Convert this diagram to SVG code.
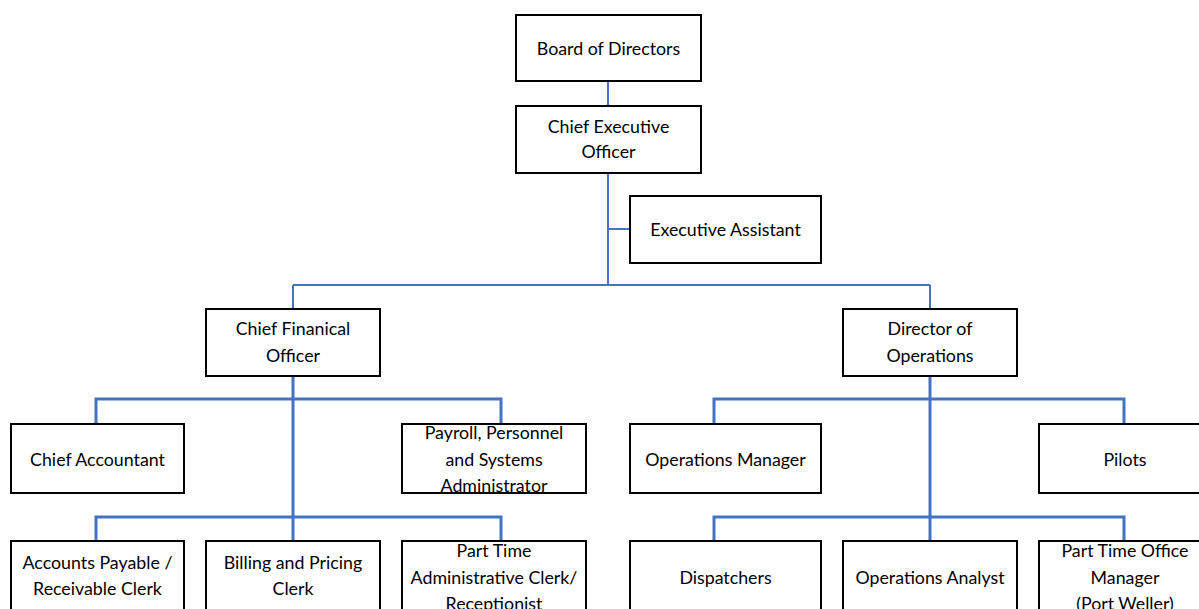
<svg xmlns="http://www.w3.org/2000/svg" width="1199" height="609" viewBox="0 0 1199 609">
<style>
.box{fill:#fff;stroke:#000;stroke-width:2}
.t{font-family:Lato,"Liberation Sans",sans-serif;font-size:17.8px;fill:#000;text-anchor:middle}
.c1{fill:none;stroke:#4472C4;stroke-width:2}
.c2{fill:none;stroke:#4472C4;stroke-width:3}
</style>
<rect width="1199" height="609" fill="#fff"/>
<g id="connectors">
<path class="c1" d="M608 81V285M608 229H630M293 285H930M293 285V309M930 285V309"/>
<path class="c2" d="M293 376V541M96 424V399H501V424M96 541V517H501V541"/>
<path class="c2" d="M930 376V541M714 424V399H1124V424M714 541V517H1124V541"/>
</g>
<g id="board"><rect class="box" x="516" y="15" width="185" height="66"/><text class="t" x="608.5" y="55">Board of Directors</text></g>
<g id="ceo"><rect class="box" x="516" y="106" width="185" height="67"/><text class="t" x="608.5" y="132.5">Chief Executive</text><text class="t" x="608.5" y="158">Officer</text></g>
<g id="ea"><rect class="box" x="630" y="196" width="191" height="67"/><text class="t" x="725.5" y="236">Executive Assistant</text></g>
<g id="cfo"><rect class="box" x="206" y="309" width="174" height="67"/><text class="t" x="293" y="335">Chief Finanical</text><text class="t" x="293" y="361.5">Officer</text></g>
<g id="doo"><rect class="box" x="843" y="309" width="174" height="67"/><text class="t" x="930" y="335">Director of</text><text class="t" x="930" y="361.5">Operations</text></g>
<g id="ca"><rect class="box" x="11" y="424" width="173" height="69"/><text class="t" x="97.5" y="465.5">Chief Accountant</text></g>
<g id="payroll"><rect class="box" x="402" y="424" width="184" height="69"/><text class="t" x="494" y="439">Payroll, Personnel</text><text class="t" x="494" y="465.5">and Systems</text><text class="t" x="494" y="492">Administrator</text></g>
<g id="om"><rect class="box" x="630" y="424" width="191" height="69"/><text class="t" x="725.5" y="465.5">Operations Manager</text></g>
<g id="pilots"><rect class="box" x="1039" y="424" width="180" height="69"/><text class="t" x="1125" y="465.5">Pilots</text></g>
<g id="ap"><rect class="box" x="11" y="541" width="173" height="80"/><text class="t" x="97.5" y="569">Accounts Payable /</text><text class="t" x="97.5" y="595">Receivable Clerk</text></g>
<g id="billing"><rect class="box" x="206" y="541" width="174" height="80"/><text class="t" x="293" y="569">Billing and Pricing</text><text class="t" x="293" y="595">Clerk</text></g>
<g id="ptac"><rect class="box" x="402" y="541" width="184" height="80"/><text class="t" x="494" y="557">Part Time</text><text class="t" x="494" y="583.5">Administrative Clerk/</text><text class="t" x="494" y="610">Receptionist</text></g>
<g id="disp"><rect class="box" x="630" y="541" width="191" height="80"/><text class="t" x="725.5" y="584">Dispatchers</text></g>
<g id="oa"><rect class="box" x="843" y="541" width="174" height="80"/><text class="t" x="930" y="584">Operations Analyst</text></g>
<g id="ptom"><rect class="box" x="1039" y="541" width="180" height="80"/><text class="t" x="1125" y="557">Part Time Office</text><text class="t" x="1125" y="583.5">Manager</text><text class="t" x="1125" y="610">(Port Weller)</text></g>
</svg>
